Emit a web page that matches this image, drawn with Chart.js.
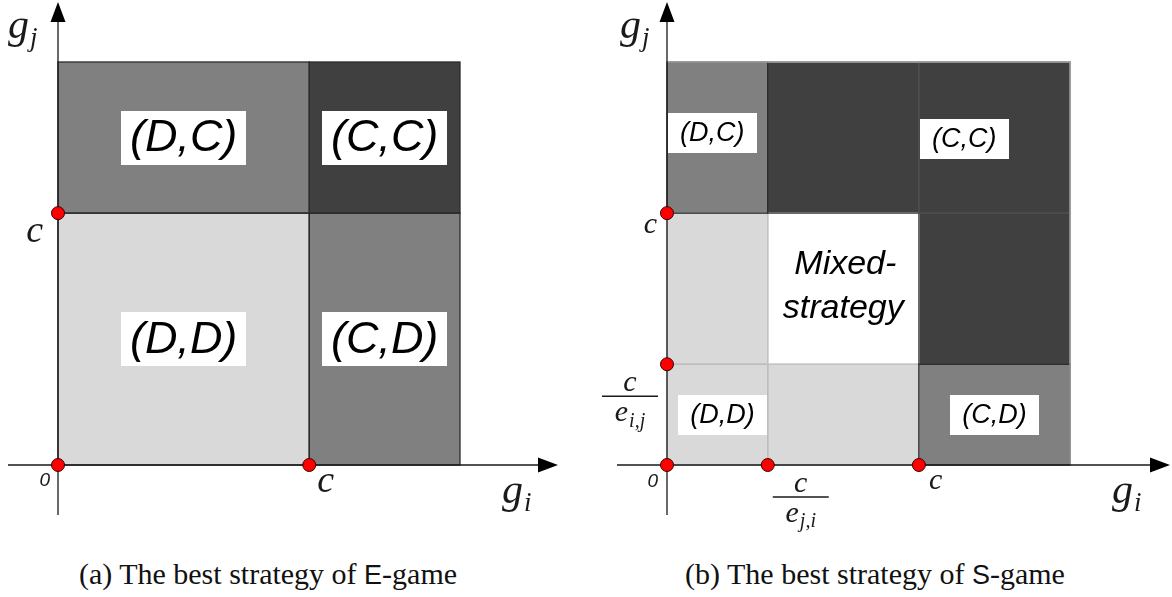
<!DOCTYPE html>
<html>
<head>
<meta charset="utf-8">
<script src="https://cdn.jsdelivr.net/npm/chart.js@4/dist/chart.umd.min.js"></script>
<style>
  html, body { margin: 0; padding: 0; background: #fff; width: 1172px; height: 597px; overflow: hidden; }
  canvas { position: absolute; top: 0; }
  #chartE { left: 0; }
  #chartS { left: 586px; }
  .cap { position: absolute; top: 557px; font-family: "Liberation Serif", serif; font-size: 30px; color: #111;
         white-space: nowrap; transform: translateX(-50%); }
  .sf { font-family: "Liberation Sans", sans-serif; font-size: 27px; }
</style>
</head>
<body>
<canvas id="chartE" width="586" height="540"></canvas>
<canvas id="chartS" width="586" height="540"></canvas>
<div class="cap" style="left:268px">(a) The best strategy of <span class="sf">E</span>-game</div>
<div class="cap" style="left:875px">(b) The best strategy of <span class="sf">S</span>-game</div>

<script>
// ---- values, in units of the cost c ----
const G_MAX = 1.6;          // extent of both benefit axes
const C_COST = 1;           // c
const C_OVER_E_IJ = 0.4;    // c / e_{i,j}
const C_OVER_E_JI = 0.4;    // c / e_{j,i}

// E-game: thresholds along g_i and g_j, best response per cell (rows from g_j = 0 up)
const eGameXEdges = [0, C_COST, G_MAX];
const eGameYEdges = [0, C_COST, G_MAX];
const eGameCells = [
  ['DD', 'CD'],
  ['DC', 'CC']
];
const eGameLabels = ['(D,C)', '(C,C)', '(D,D)', '(C,D)'];
const eGameDotX = [0, C_COST, 0];
const eGameDotY = [0, 0, C_COST];

// S-game
const sGameXEdges = [0, C_OVER_E_JI, C_COST, G_MAX];
const sGameYEdges = [0, C_OVER_E_IJ, C_COST, G_MAX];
const sGameCells = [
  ['DD', 'DD', 'CD'],
  ['DD', 'MX', 'CC'],
  ['DC', 'CC', 'CC']
];
const sGameLabels = ['(D,C)', '(C,C)', '(D,D)', '(C,D)'];
const sGameMixed = ['Mixed-', 'strategy'];
const sGameDotX = [0, C_OVER_E_JI, C_COST, 0, 0];
const sGameDotY = [0, 0, 0, C_OVER_E_IJ, C_COST];

// ---- styling ----
const FILL = { DD: '#d9d9d9', DC: '#808080', CD: '#808080', CC: '#404040', MX: '#ffffff' };
const INK = '#1a1a1a';

function drawSub(ctx, base, sub, x, y, size) {
  ctx.fillStyle = INK;
  ctx.textAlign = 'left';
  ctx.textBaseline = 'alphabetic';
  ctx.font = `italic ${size}px "Liberation Serif"`;
  ctx.fillText(base, x, y);
  const w = ctx.measureText(base).width;
  ctx.font = `italic ${Math.round(size * 0.65)}px "Liberation Serif"`;
  ctx.fillText(sub, x + w + 1, y + size * 0.18);
}

function subWidth(ctx, base, sub, size) {
  ctx.font = `italic ${size}px "Liberation Serif"`;
  const a = ctx.measureText(base).width;
  ctx.font = `italic ${Math.round(size * 0.65)}px "Liberation Serif"`;
  return a + 1 + ctx.measureText(sub).width;
}

function drawMathText(ctx, txt, x, y, size, align) {
  ctx.fillStyle = INK;
  ctx.font = `italic ${size}px "Liberation Serif"`;
  ctx.textAlign = align;
  ctx.textBaseline = 'alphabetic';
  ctx.fillText(txt, x, y);
}

function drawFraction(ctx, sub, cx, barY) {
  drawMathText(ctx, 'c', cx, barY - 5, 30, 'center');
  ctx.strokeStyle = INK;
  ctx.lineWidth = 1.4;
  ctx.beginPath();
  ctx.moveTo(cx - 28, barY);
  ctx.lineTo(cx + 28, barY);
  ctx.stroke();
  const w = subWidth(ctx, 'e', sub, 30);
  drawSub(ctx, 'e', sub, cx - w / 2, barY + 25, 30);
}

function drawZero(ctx, x, y) {
  ctx.fillStyle = INK;
  ctx.font = 'italic 19px "Liberation Sans"';
  ctx.textAlign = 'right';
  ctx.textBaseline = 'alphabetic';
  ctx.fillText('0', x, y);
}

function drawArrowAxes(ctx, ox, oy, tipX, tipY, tail) {
  ctx.strokeStyle = INK;
  ctx.fillStyle = '#000';
  ctx.lineWidth = 1.3;
  ctx.beginPath();
  ctx.moveTo(ox - tail, oy); ctx.lineTo(tipX - 18, oy);
  ctx.moveTo(ox, oy + tail); ctx.lineTo(ox, tipY + 18);
  ctx.stroke();
  // arrow heads
  ctx.beginPath();
  ctx.moveTo(tipX, oy); ctx.lineTo(tipX - 20, oy - 7.5); ctx.lineTo(tipX - 20, oy + 7.5); ctx.closePath();
  ctx.fill();
  ctx.beginPath();
  ctx.moveTo(ox, tipY); ctx.lineTo(ox - 7.5, tipY + 20); ctx.lineTo(ox + 7.5, tipY + 20); ctx.closePath();
  ctx.fill();
}

function labelBox(ctx, text, cx, cy, w, h, size) {
  ctx.fillStyle = '#fff';
  ctx.fillRect(Math.round(cx - w / 2), Math.round(cy - h / 2), w, h);
  ctx.fillStyle = '#000';
  ctx.font = `italic ${size}px "Liberation Sans"`;
  ctx.textAlign = 'center';
  ctx.textBaseline = 'middle';
  ctx.fillText(text, cx, cy + 1);
}

function regionsPlugin(fig) {
  return {
    id: 'regions',
    beforeDatasetsDraw(chart) {
      const ctx = chart.ctx;
      const X = v => chart.scales.x.getPixelForValue(v);
      const Y = v => chart.scales.y.getPixelForValue(v);
      ctx.save();
      const rect = (r, c) => {
        const x0 = X(fig.xEdges[c]), x1 = X(fig.xEdges[c + 1]);
        const y0 = Y(fig.yEdges[r + 1]), y1 = Y(fig.yEdges[r]);
        return [x0, y0, x1 - x0, y1 - y0];
      };
      // cell fills
      fig.cells.forEach((row, r) => row.forEach((code, c) => {
        ctx.fillStyle = FILL[code];
        ctx.fillRect(...rect(r, c));
      }));
      // cell edges, lighter shades first so darker edges end on top
      fig.edgeOrder.forEach(code => {
        fig.cells.forEach((row, r) => row.forEach((cc, c) => {
          if (cc !== code) return;
          ctx.strokeStyle = fig.edgeColor[code];
          ctx.lineWidth = 1.3;
          ctx.strokeRect(...rect(r, c));
        }));
      });
      if (fig.outerEdge) {
        const x0 = X(0), x1 = X(G_MAX), y1 = Y(G_MAX), y0 = Y(0);
        ctx.strokeStyle = fig.outerEdge;
        ctx.lineWidth = 1.3;
        ctx.beginPath();
        ctx.moveTo(x0, y1); ctx.lineTo(x1, y1); ctx.lineTo(x1, y0);
        ctx.stroke();
      }
      // strategy labels
      fig.labels.forEach((t, i) => {
        const a = fig.labelAt[i];
        labelBox(ctx, t, X(a[0]), Y(a[1]), fig.box[0], fig.box[1], fig.box[2]);
      });
      if (fig.mixed) {
        const cx = X((C_OVER_E_JI + C_COST) / 2), cy = Y((C_OVER_E_IJ + C_COST) / 2);
        ctx.fillStyle = '#000';
        ctx.font = 'italic 34px "Liberation Sans"';
        ctx.textAlign = 'center';
        ctx.textBaseline = 'alphabetic';
        ctx.fillText(fig.mixed[0], cx + 2, cy - 15);
        ctx.fillText(fig.mixed[1], cx, cy + 29);
      }
      drawArrowAxes(ctx, X(0), Y(0), X(0) + fig.axisLen, 2, 50);
      ctx.restore();
    },
    afterDraw(chart) {
      const ctx = chart.ctx;
      const X = v => chart.scales.x.getPixelForValue(v);
      const Y = v => chart.scales.y.getPixelForValue(v);
      ctx.save();
      fig.math(ctx, X, Y);
      ctx.restore();
    }
  };
}

function makeChart(id, fig, dotX, dotY) {
  return new Chart(document.getElementById(id), {
    type: 'scatter',
    data: {
      datasets: [{
        data: dotX.map((x, i) => ({ x, y: dotY[i] })),
        pointRadius: 6.5,
        pointBackgroundColor: '#ff0000',
        pointBorderColor: '#3a0000',
        pointBorderWidth: 1,
        clip: false
      }]
    },
    options: {
      responsive: false,
      animation: false,
      devicePixelRatio: 1,
      events: [],
      layout: { padding: fig.padding },
      scales: {
        x: { type: 'linear', min: 0, max: G_MAX, display: false },
        y: { type: 'linear', min: 0, max: G_MAX, display: false }
      },
      plugins: { legend: { display: false }, tooltip: { enabled: false } }
    },
    plugins: [regionsPlugin(fig)]
  });
}

makeChart('chartE', {
  padding: { left: 58, right: 126, top: 62, bottom: 75 },
  xEdges: eGameXEdges, yEdges: eGameYEdges, cells: eGameCells,
  edgeOrder: ['DD', 'CD', 'DC', 'CC'],
  edgeColor: { DD: '#2b2b2b', CD: '#2b2b2b', DC: '#2b2b2b', CC: '#2b2b2b' },
  labels: eGameLabels,
  labelAt: [[0.5, 1.3], [1.3, 1.3], [0.5, 0.5], [1.3, 0.5]],
  box: [125, 54, 45],
  axisLen: 500,
  math(ctx, X, Y) {
    drawSub(ctx, 'g', 'j', X(0) - 50, 38, 42);
    drawSub(ctx, 'g', 'i', X(0) + 444, Y(0) + 38, 42);
    drawMathText(ctx, 'c', X(0) - 15, Y(C_COST) + 29, 38, 'right');
    drawMathText(ctx, 'c', X(C_COST) + 8, Y(0) + 27, 38, 'left');
    drawZero(ctx, X(0) - 8, Y(0) + 21);
  }
}, eGameDotX, eGameDotY);

makeChart('chartS', {
  padding: { left: 81, right: 102, top: 62, bottom: 75 },
  xEdges: sGameXEdges, yEdges: sGameYEdges, cells: sGameCells,
  edgeOrder: ['DD', 'MX', 'CC', 'DC', 'CD'],
  edgeColor: { DD: '#bdbdbd', MX: '#c4c4c4', CC: '#4e4e4e', DC: '#2b2b2b', CD: '#2b2b2b' },
  outerEdge: '#a8a8a8',
  labels: sGameLabels,
  labelAt: [[0.18, 1.32], [1.18, 1.295], [0.22, 0.2], [1.3, 0.2]],
  box: [89, 40, 27],
  mixed: sGameMixed,
  axisLen: 503,
  math(ctx, X, Y) {
    drawSub(ctx, 'g', 'j', X(0) - 47, 38, 42);
    drawSub(ctx, 'g', 'i', X(0) + 445, Y(0) + 38, 42);
    drawMathText(ctx, 'c', X(0) - 10, Y(C_COST) + 20, 30, 'right');
    drawMathText(ctx, 'c', X(C_COST) + 10, Y(0) + 24, 30, 'left');
    drawZero(ctx, X(0) - 9, Y(0) + 22);
    drawFraction(ctx, 'i,j', X(0) - 37, Y(C_OVER_E_IJ) + 32);
    drawFraction(ctx, 'j,i', X(C_OVER_E_JI) + 33, Y(0) + 32);
  }
}, sGameDotX, sGameDotY);
</script>
</body>
</html>
